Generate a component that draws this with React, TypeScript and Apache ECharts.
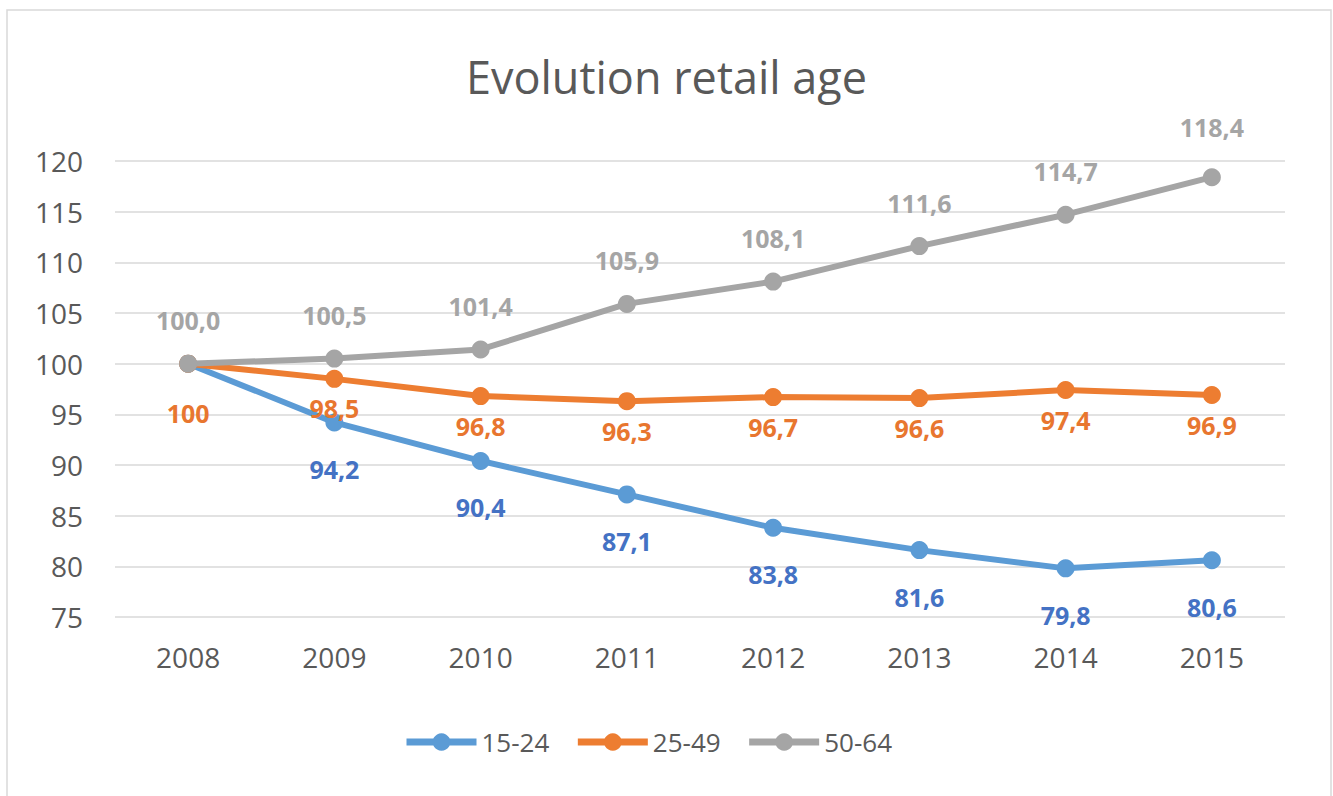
import React, { useEffect, useRef } from "react";
import * as echarts from "echarts";

const years = ["2008", "2009", "2010", "2011", "2012", "2013", "2014", "2015"];
const young = [100, 94.2, 90.4, 87.1, 83.8, 81.6, 79.8, 80.6];
const middle = [100, 98.5, 96.8, 96.3, 96.7, 96.6, 97.4, 96.9];
const senior = [100, 100.5, 101.4, 105.9, 108.1, 111.6, 114.7, 118.4];
const seriesNames = ["15-24", "25-49", "50-64"];

const FONT = "'Open Sans', 'Noto Sans', sans-serif";
const fmt = (v: number) => v.toFixed(1).replace(".", ",");

export default function App() {
  const ref = useRef<HTMLDivElement>(null);
  useEffect(() => {
    if (!ref.current) return;
    const chart = echarts.init(ref.current, undefined, { renderer: "svg" });
    const labelBase = { show: true, fontFamily: FONT, fontSize: 25, fontWeight: "bold" as const };
    chart.setOption({
      animation: false,
      backgroundColor: "#ffffff",
      graphic: [
        {
          type: "rect",
          shape: { x: 7, y: 10, width: 1324, height: 800 },
          style: { fill: "none", stroke: "#d9d9d9", lineWidth: 1.5 },
          silent: true,
        },
      ],
      title: {
        text: "Evolution retail age",
        left: "center",
        top: 49,
        textStyle: { fontFamily: FONT, fontSize: 45, fontWeight: "normal", color: "#595959" },
      },
      legend: {
        bottom: 36,
        left: 398,
        itemWidth: 70,
        itemHeight: 22,
        itemGap: 25,
        lineStyle: { width: 7 },
        textStyle: { fontFamily: FONT, fontSize: 26, color: "#595959" },
        data: seriesNames,
      },
      grid: { left: 115, right: 48, top: 161, bottom: 179, containLabel: false },
      xAxis: {
        type: "category",
        data: years,
        boundaryGap: true,
        axisLine: { show: false },
        axisTick: { show: false },
        axisLabel: { fontFamily: FONT, fontSize: 28, color: "#595959", margin: 26 },
      },
      yAxis: {
        type: "value",
        min: 75,
        max: 120,
        interval: 5,
        axisLine: { show: false },
        axisTick: { show: false },
        axisLabel: { fontFamily: FONT, fontSize: 28, color: "#595959", margin: 32 },
        splitLine: { lineStyle: { color: "#d9d9d9", width: 1.5 } },
      },
      series: [
        {
          name: seriesNames[0],
          type: "line",
          data: young.map((v, i) => (i === 0 ? { value: v, label: { show: false } } : v)),
          color: "#5B9BD5",
          symbol: "circle",
          symbolSize: 18,
          lineStyle: { width: 6, color: "#5B9BD5" },
          itemStyle: { color: "#5B9BD5" },
          label: { ...labelBase, position: "bottom", distance: 25, color: "#4472C4", formatter: (p: any) => fmt(p.value) },
          z: 2,
        },
        {
          name: seriesNames[1],
          type: "line",
          data: middle.map((v, i) =>
            i === 0 ? { value: v, label: { formatter: "100", distance: 28 } } : v
          ),
          color: "#ED7D31",
          symbol: "circle",
          symbolSize: 18,
          lineStyle: { width: 6, color: "#ED7D31" },
          itemStyle: { color: "#ED7D31" },
          label: { ...labelBase, position: "bottom", distance: 8, color: "#E8762F", formatter: (p: any) => fmt(p.value) },
          z: 3,
        },
        {
          name: seriesNames[2],
          type: "line",
          data: senior.map((v, i) =>
            i === senior.length - 1 ? { value: v, label: { distance: 29 } } : v
          ),
          color: "#A5A5A5",
          symbol: "circle",
          symbolSize: 18,
          lineStyle: { width: 6, color: "#A5A5A5" },
          itemStyle: { color: "#A5A5A5" },
          label: { ...labelBase, position: "top", distance: 22, color: "#A5A5A5", formatter: (p: any) => fmt(p.value) },
          z: 4,
        },
      ],
    });
    return () => chart.dispose();
  }, []);
  return (
    <div
      ref={ref}
      style={{ position: "absolute", left: 0, top: 0, width: 1333, height: 796 }}
    />
  );
}
